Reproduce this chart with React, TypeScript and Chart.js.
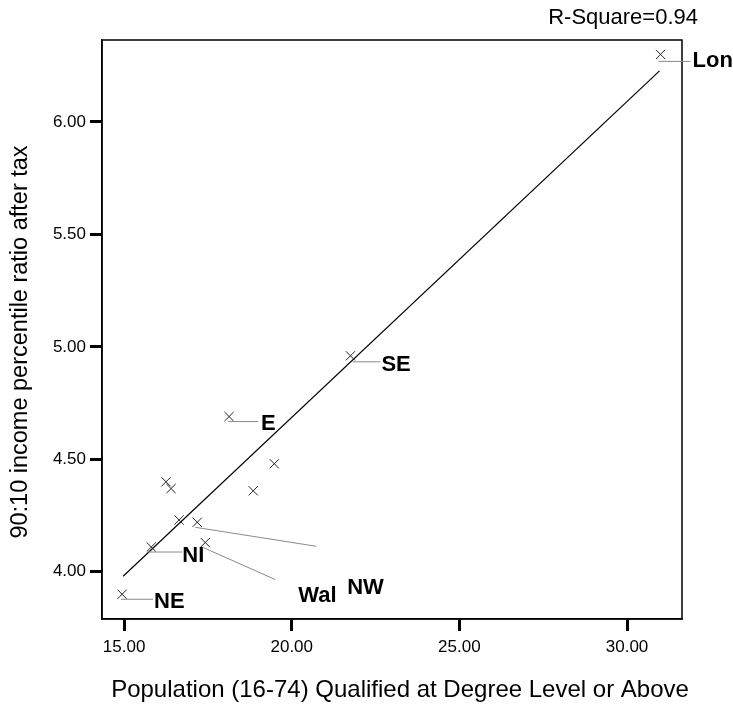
import React, { useEffect, useRef } from "react";
import { Chart, registerables } from "chart.js";

Chart.register(...registerables);

// Data: % population (16-74) with degree vs 90:10 income ratio after tax
const regionNames = ["NE", "NI", "R3", "NW", "Wal", "R6", "R7", "R8", "R9", "E", "SE", "Lon"];
const degreePct = [14.94, 15.81, 16.64, 17.18, 17.42, 16.25, 16.40, 18.85, 19.48, 18.13, 21.75, 31.0];
const incomeRatio = [3.90, 4.11, 4.23, 4.22, 4.13, 4.40, 4.37, 4.36, 4.48, 4.69, 4.96, 6.30];
const fitX = [14.97, 30.97];
const fitY = [3.98, 6.227];
const xTickValues = [15, 20, 25, 30];
const yTickValues = [4.0, 4.5, 5.0, 5.5, 6.0];
const rSquareText = "R-Square=0.94";
const xTitle = "Population (16-74) Qualified at Degree Level or Above";
const yTitle = "90:10 income percentile ratio after tax";

// Labelled points: which point, leader line start/end offsets and text offset (px)
const labelled = [
  { name: "Lon", idx: 11, l0: [-2, 7], l1: [30, 7], t: [32, 7] },
  { name: "SE", idx: 10, l0: [2, 6], l1: [30, 6], t: [31, 9] },
  { name: "E", idx: 9, l0: [-1, 5], l1: [29, 5], t: [32, 7] },
  { name: "NI", idx: 1, l0: [-3, 5], l1: [31, 5], t: [31, 9] },
  { name: "NE", idx: 0, l0: [-1, 5], l1: [31, 5], t: [32, 8] },
  { name: "NW", idx: 3, l0: [-2, 5], l1: [119, 24], t: [150, 66] },
  { name: "Wal", idx: 4, l0: [-2, 5], l1: [70, 37], t: [93, 53] },
];

const FONT = "'Liberation Sans', Arial, Helvetica, sans-serif";

export default function App() {
  const ref = useRef<HTMLCanvasElement>(null);
  useEffect(() => {
    document.body.style.margin = "0";
    const canvas = ref.current!;
    const overlay = {
      id: "overlay",
      afterDatasetsDraw(chart: any) {
        const ctx = chart.ctx;
        const { left, right, top, bottom } = chart.chartArea;
        const xs = chart.scales.x;
        const ys = chart.scales.y;
        ctx.save();
        // frame
        ctx.strokeStyle = "#000";
        ctx.lineWidth = 1.5;
        ctx.strokeRect(left, top, right - left, bottom - top);
        // labels
        ctx.font = `bold 22px ${FONT}`;
        ctx.textBaseline = "middle";
        ctx.textAlign = "left";
        for (const L of labelled) {
          const px = xs.getPixelForValue(degreePct[L.idx]);
          const py = ys.getPixelForValue(incomeRatio[L.idx]);
          ctx.strokeStyle = "#8a8a8a";
          ctx.lineWidth = 1;
          ctx.beginPath();
          ctx.moveTo(px + L.l0[0], py + L.l0[1]);
          ctx.lineTo(px + L.l1[0], py + L.l1[1]);
          ctx.stroke();
          ctx.fillStyle = "#000";
          ctx.fillText(L.name, px + L.t[0], py + L.t[1]);
        }
        // R-square
        ctx.font = `22px ${FONT}`;
        ctx.textAlign = "right";
        ctx.fillText(rSquareText, 698, 18);
        // x axis title
        ctx.font = `24px ${FONT}`;
        ctx.textAlign = "center";
        ctx.textBaseline = "middle";
        ctx.fillText(xTitle, 400, 690);
        // y axis title
        ctx.translate(21, 342);
        ctx.rotate(-Math.PI / 2);
        ctx.font = `23.5px ${FONT}`;
        ctx.fillText(yTitle, 0, 0);
        ctx.restore();
      },
    };
    const chart = new Chart(canvas, {
      type: "scatter",
      data: {
        datasets: [
          {
            data: degreePct.map((x, i) => ({ x, y: incomeRatio[i] })),
            pointStyle: "crossRot",
            pointRadius: 6.5,
            pointBorderColor: "#222",
            pointBorderWidth: 1,
            borderColor: "#222",
            backgroundColor: "#222",
          },
          {
            type: "line",
            data: fitX.map((x, i) => ({ x, y: fitY[i] })),
            borderColor: "#000",
            borderWidth: 1.2,
            pointRadius: 0,
            showLine: true,
            fill: false,
          } as any,
        ],
      },
      options: {
        responsive: false,
        animation: false,
        layout: { padding: { left: 0, right: 51, top: 40, bottom: 0 } },
        plugins: { legend: { display: false }, tooltip: { enabled: false } },
        scales: {
          x: {
            type: "linear",
            min: 14.34,
            max: 31.64,
            afterFit: (s: any) => { s.height = 89; },
            afterBuildTicks: (s: any) => { s.ticks = xTickValues.map((v) => ({ value: v })); },
            ticks: {
              includeBounds: false,
              color: "#000",
              font: { family: FONT, size: 17 },
              padding: 6,
              maxRotation: 0,
              callback: (v: any) => Number(v).toFixed(2),
            },
            grid: { display: true, drawOnChartArea: false, drawTicks: true, tickLength: 12, tickWidth: 3, color: "#000" },
            border: { display: true, color: "#000", width: 1.5 },
            title: { display: false, text: xTitle },
          },
          y: {
            type: "linear",
            min: 3.79,
            max: 6.364,
            afterFit: (s: any) => { s.width = 102; },
            afterBuildTicks: (s: any) => { s.ticks = yTickValues.map((v) => ({ value: v })); },
            ticks: {
              includeBounds: false,
              color: "#000",
              font: { family: FONT, size: 17 },
              padding: 4,
              callback: (v: any) => Number(v).toFixed(2),
            },
            grid: { display: true, drawOnChartArea: false, drawTicks: true, tickLength: 12, tickWidth: 3, color: "#000" },
            border: { display: true, color: "#000", width: 1.5 },
            title: { display: false, text: yTitle },
          },
        },
      },
      plugins: [overlay],
    });
    return () => chart.destroy();
  }, []);
  return <canvas ref={ref} width={733} height={708} style={{ display: "block" }} />;
}
